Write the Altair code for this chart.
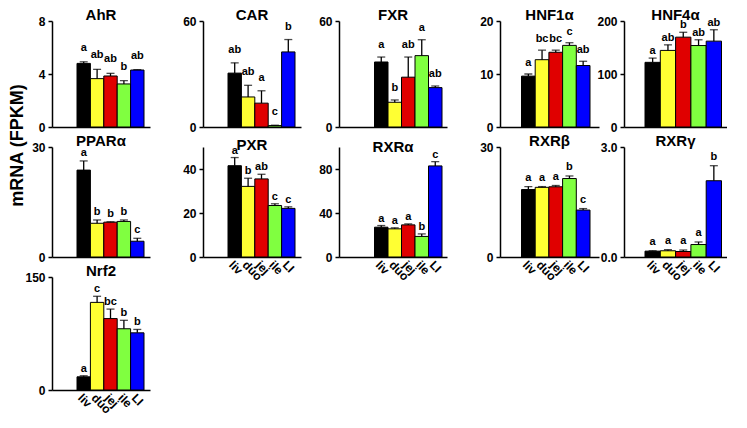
import altair as alt
import pandas as pd

FONT = "Liberation Sans"

tissues = ["liv", "duo", "jej", "ile", "LI"]
bar_colors = ["#000000", "#ffff33", "#e00000", "#80ff40", "#0000ff"]

# ---- data (mean, SEM upper error, significance letters) ----
ahr_mean = [4.80, 3.65, 3.85, 3.25, 4.30]
ahr_sem = [0.12, 0.70, 0.20, 0.25, 0.03]
ahr_sig = ["a", "ab", "ab", "b", "ab"]

car_mean = [30.5, 17.0, 13.5, 0.8, 42.5]
car_sem = [5.8, 6.6, 7.0, 0.2, 7.0]
car_sig = ["ab", "ab", "a", "c", "b"]

fxr_mean = [36.8, 14.0, 28.2, 40.4, 22.3]
fxr_sem = [2.8, 1.3, 11.4, 9.0, 0.9]
fxr_sig = ["a", "b", "ab", "a", "ab"]

hnf1a_mean = [9.6, 12.7, 14.1, 15.4, 11.6]
hnf1a_sem = [0.4, 1.8, 0.4, 0.5, 0.8]
hnf1a_sig = ["a", "bc", "bc", "c", "ab"]

hnf4a_mean = [122.0, 144.5, 169.5, 153.7, 162.0]
hnf4a_sem = [8.0, 10.5, 9.2, 10.9, 21.5]
hnf4a_sig = ["a", "ab", "b", "ab", "ab"]

ppara_mean = [23.7, 9.2, 9.5, 9.7, 4.3]
ppara_sem = [2.5, 0.9, 0.1, 0.4, 0.8]
ppara_sig = ["a", "b", "b", "b", "c"]

pxr_mean = [41.5, 32.1, 35.5, 23.4, 22.1]
pxr_sem = [3.7, 3.7, 2.1, 0.8, 0.7]
pxr_sig = ["a", "b", "ab", "c", "c"]

rxra_mean = [27.1, 25.6, 29.2, 18.7, 82.8]
rxra_sem = [1.5, 0.9, 0.9, 2.3, 3.9]
rxra_sig = ["a", "a", "a", "b", "c"]

rxrb_mean = [18.4, 19.0, 19.15, 21.4, 12.8]
rxrb_sem = [0.8, 0.2, 0.35, 0.7, 0.4]
rxrb_sig = ["a", "a", "a", "b", "c"]

rxrg_mean = [0.16, 0.17, 0.15, 0.34, 2.08]
rxrg_sem = [0.01, 0.03, 0.04, 0.07, 0.41]
rxrg_sig = ["a", "a", "a", "a", "b"]

nrf2_mean = [17.5, 116.3, 94.8, 81.3, 75.9]
nrf2_sem = [1.4, 8.1, 12.6, 11.2, 4.5]
nrf2_sig = ["a", "c", "bc", "b", "b"]

# y-axis tick labels
ahr_ticks = [0, 2, 4, 6, 8]
car_ticks = [0, 20, 40, 60]
fxr_ticks = [0, 20, 40, 60]
hnf1a_ticks = [0, 5, 10, 15, 20]
hnf4a_ticks = [0, 50, 100, 150, 200]
ppara_ticks = [0, 10, 20, 30]
pxr_ticks = [0, 10, 20, 30, 40, 50]
rxra_ticks = [0, 20, 40, 60, 80, 100]
rxrb_ticks = [0, 10, 20, 30]
rxrg_ticks = [0, 1, 2, 3]
nrf2_ticks = [0, 50, 100, 150]

# ---- layout (plot width, gap before first bar, total bar width) per column ----
geoms = [(98, 25, 67), (98, 25, 67), (108, 35.5, 67.5), (99, 21.5, 68.5), (103, 21, 76.5)]
H1, H2, H3 = 106, 110, 113


def panel(gene, mean, sem, sig, ticks, geom, height, show_x, gap, fmt="d", y_title=None):
    W, left, bw = geom
    n = len(tissues)
    step = bw / n
    L = left / step
    R = (W - left - bw) / step
    nL = int(L)
    rL = L - nL
    p_out = (rL + R) / 2
    a = rL / (rL + R)
    blanks = [" " * (k + 1) for k in range(nL)]   # empty slots left of the bars
    df = pd.DataFrame({
        "tissue": tissues,
        "mean": mean,
        "top": [m + s for m, s in zip(mean, sem)],
        "sig": sig,
    })
    xax = alt.Axis(title=None, labels=show_x, ticks=False, grid=False, labelAngle=45,
                   labelAlign="left", labelBaseline="top", labelOverlap=False,
                   labelFontSize=12, labelPadding=2)
    xenc = alt.X("tissue:N",
                 scale=alt.Scale(domain=blanks + tissues, paddingInner=0,
                                 paddingOuter=p_out, align=a),
                 axis=xax)
    if y_title:
        yax = alt.Axis(values=ticks, format=fmt, title=y_title, titleFontSize=18,
                       titleY=124, titleAlign="center", titlePadding=12)
    else:
        yax = alt.Axis(values=ticks, format=fmt, title=None)
    yscale = alt.Scale(domain=[ticks[0], ticks[-1]], nice=False, padding=0)
    base = alt.Chart(df)
    bars = base.mark_bar(stroke="black", strokeWidth=1).encode(
        x=xenc,
        y=alt.Y("mean:Q", scale=yscale, axis=yax),
        color=alt.Color("tissue:N", scale=alt.Scale(domain=tissues, range=bar_colors), legend=None),
    )
    err = base.mark_rule(color="black", strokeWidth=1.3).encode(
        x=xenc, y="mean:Q", y2="top:Q")
    cap = base.mark_tick(color="black", thickness=1.3, size=8, orient="horizontal").encode(
        x=xenc, y="top:Q")
    txt = base.mark_text(dy=-gap, fontSize=11, fontWeight="bold", font=FONT,
                         color="black", baseline="middle").encode(
        x=xenc, y="top:Q", text="sig:N")
    return alt.layer(bars, err, cap, txt).properties(width=W, height=height, title=gene)


p_ahr = panel("AhR", ahr_mean, ahr_sem, ahr_sig, ahr_ticks, geoms[0], H1, False, 14,
              y_title="mRNA (FPKM)")
p_car = panel("CAR", car_mean, car_sem, car_sig, car_ticks, geoms[1], H1, False, 13)
p_fxr = panel("FXR", fxr_mean, fxr_sem, fxr_sig, fxr_ticks, geoms[2], H1, False, 12)
p_hnf1a = panel("HNF1α", hnf1a_mean, hnf1a_sem, hnf1a_sig, hnf1a_ticks, geoms[3], H1, False, 11)
p_hnf4a = panel("HNF4α", hnf4a_mean, hnf4a_sem, hnf4a_sig, hnf4a_ticks, geoms[4], H1, False, 7)

p_ppara = panel("PPARα", ppara_mean, ppara_sem, ppara_sig, ppara_ticks, geoms[0], H2, False, 8)
p_pxr = panel("PXR", pxr_mean, pxr_sem, pxr_sig, pxr_ticks, geoms[1], H2, True, 7)
p_rxra = panel("RXRα", rxra_mean, rxra_sem, rxra_sig, rxra_ticks, geoms[2], H2, True, 7)
p_rxrb = panel("RXRβ", rxrb_mean, rxrb_sem, rxrb_sig, rxrb_ticks, geoms[3], H2, True, 9)
p_rxrg = panel("RXRγ", rxrg_mean, rxrg_sem, rxrg_sig, rxrg_ticks, geoms[4], H2, True, 9, fmt=".1f")

p_nrf2 = panel("Nrf2", nrf2_mean, nrf2_sem, nrf2_sig, nrf2_ticks, geoms[0], H3, True, 7)

col1 = alt.vconcat(p_ahr, p_ppara, p_nrf2, spacing=20, bounds="flush")
col2 = alt.vconcat(p_car, p_pxr, spacing=20, bounds="flush")
col3 = alt.vconcat(p_fxr, p_rxra, spacing=20, bounds="flush")
col4 = alt.vconcat(p_hnf1a, p_rxrb, spacing=20, bounds="flush")
col5 = alt.vconcat(p_hnf4a, p_rxrg, spacing=20, bounds="flush")

chart = alt.hconcat(
    col1,
    alt.hconcat(
        col2,
        alt.hconcat(
            col3,
            alt.hconcat(col4, col5, spacing=-3),
            spacing=32,
        ),
        spacing=17,
    ),
    spacing=32,
).properties(
    padding={"left": 0, "top": 0, "right": 0, "bottom": 0}
).configure_view(
    stroke=None
).configure_axis(
    domainColor="black", domainWidth=1.5, tickColor="black", tickWidth=1.5, tickSize=4,
    labelFont=FONT, labelFontWeight="bold", labelFontSize=12, labelColor="black", labelPadding=3,
    grid=False, titleFont=FONT, titleFontWeight="bold", titleColor="black"
).configure_title(
    font=FONT, fontSize=15, fontWeight="bold", color="black", offset=-8, anchor="middle",
    frame="group", baseline="alphabetic"
)

chart.save("out.html", embed_options={"renderer": "svg", "actions": False})
